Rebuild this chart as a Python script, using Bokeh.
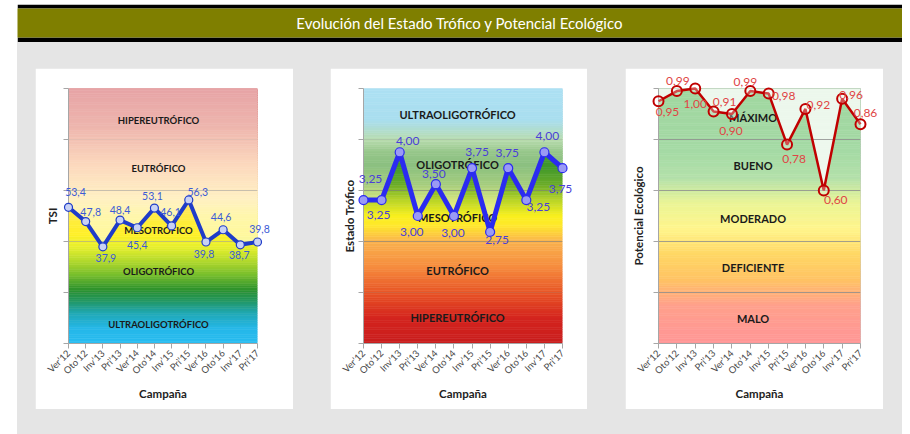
import numpy as np
from bokeh.plotting import figure
from bokeh.models import FixedTicker, Range1d
from bokeh.layouts import row, column
from bokeh.core.properties import value
from bokeh.embed import file_html
from bokeh.resources import INLINE

# ---------------- data ----------------
title_text = "Evolución del Estado Trófico y Potencial Ecológico"
campaigns = ["Ver’12", "Oto’12", "Inv’13", "Pri’13", "Ver’14", "Oto’14",
             "Inv’15", "Pri’15", "Ver’16", "Oto’16", "Inv’17", "Pri’17"]
tsi = [53.4, 47.8, 37.9, 48.4, 45.4, 53.1, 46.1, 56.3, 39.8, 44.6, 38.7, 39.8]
estado = [3.25, 3.25, 4.00, 3.00, 3.50, 3.00, 3.75, 2.75, 3.75, 3.25, 4.00, 3.75]
potencial = [0.95, 0.99, 1.00, 0.91, 0.90, 0.99, 0.98, 0.78, 0.92, 0.60, 0.96, 0.86]

tsi_bands = ["Hipereutrófico", "Eutrófico", "Mesotrófico", "Oligotrófico", "Ultraoligotrófico"]
estado_bands = ["Ultraoligotrófico", "Oligotrófico", "Mesotrófico", "Eutrófico", "Hipereutrófico"]
potencial_bands = ["Máximo", "Bueno", "Moderado", "Deficiente", "Malo"]

tsi_ticks = [0, 20, 40, 60, 80, 100]
estado_ticks = [1.0, 1.8, 2.6, 3.4, 4.2, 5.0]
potencial_ticks = [0.0, 0.2, 0.4, 0.6, 0.8, 1.0]

x_idx = list(range(len(campaigns)))

# ---------------- helpers ----------------
FONT = "Lato"


def hexcol(c):
    return "#%02x%02x%02x" % tuple(int(round(v)) for v in c)


def gradient(p, stops, lo, hi, n=110):
    edges = np.linspace(lo, hi, n + 1)
    sv = [s[0] for s in stops]
    cols = []
    for i in range(n):
        m = 0.5 * (edges[i] + edges[i + 1])
        c = [np.interp(m, sv, [s[1][k] for s in stops]) for k in range(3)]
        cols.append(hexcol(c))
    p.quad(left=0, right=len(campaigns) - 1, bottom=edges[:-1], top=edges[1:],
           fill_color=cols, line_color=cols, line_width=0.6)


def fmt(v, d):
    return f"{v:.{d}f}".replace(".", ",")


def make_panel(width, left, right, ylo, yhi, ticks, ylabel, std):
    p = figure(width=width, height=341, x_range=Range1d(0, len(campaigns) - 1),
               y_range=Range1d(ylo, yhi), toolbar_location=None, output_backend="svg",
               min_border_left=left, min_border_right=right, min_border_top=20,
               min_border_bottom=66)
    p.border_fill_color = "white"
    p.outline_line_color = None
    p.xgrid.visible = False
    p.ygrid.visible = False
    ax = p.xaxis[0]
    ax.ticker = FixedTicker(ticks=x_idx)
    ax.major_label_overrides = {i: c for i, c in enumerate(campaigns)}
    ax.major_label_orientation = np.pi / 4
    ax.major_label_text_font = FONT
    ax.major_label_text_font_size = "9.5px"
    ax.major_label_text_color = "#4a4a4a"
    ax.major_label_standoff = 3
    ax.axis_label = "Campaña"
    ax.axis_label_text_font = FONT
    ax.axis_label_text_font_style = "bold"
    ax.axis_label_text_font_size = "11.5px"
    ax.axis_label_text_color = "#222222"
    ax.axis_label_standoff = 4
    ay = p.yaxis[0]
    ay.ticker = FixedTicker(ticks=ticks)
    ay.major_label_overrides = {t: "" for t in ticks}
    ay.major_label_standoff = 0
    ay.axis_label = ylabel
    ay.axis_label_text_font = FONT
    ay.axis_label_text_font_style = "bold"
    ay.axis_label_text_font_size = "11.5px"
    ay.axis_label_text_color = "#222222"
    ay.axis_label_standoff = std
    for a in (ax, ay):
        a.axis_line_color = "#A6A6A6"
        a.major_tick_line_color = "#A6A6A6"
        a.major_tick_in = 0
        a.major_tick_out = 5
        a.minor_tick_line_color = None
    return p


def band_text(p, xc, ys, names, size):
    p.text(x=[xc] * len(ys), y=ys, text=[n.upper() for n in names],
           text_align="center", text_baseline="middle", text_color="#1a1a1a",
           text_font=value(FONT), text_font_style="bold", text_font_size=size)


def gridlines(p, ys, color, alpha):
    p.segment(x0=[0] * len(ys), x1=[len(campaigns) - 1] * len(ys), y0=ys, y1=ys,
              line_color=color, line_alpha=alpha, line_width=1)


# ---------------- header ----------------
h = figure(width=885, height=38, x_range=(0, 1), y_range=(0, 1), toolbar_location=None,
           output_backend="svg", x_axis_location=None, y_axis_location=None,
           min_border_top=4, min_border_bottom=5, min_border_left=0, min_border_right=0)
h.grid.visible = False
h.background_fill_color = "#7F7F00"
h.border_fill_color = "black"
h.outline_line_color = None
h.text(x=[0.5], y=[0.5], text=[title_text], text_align="center", text_baseline="middle",
       text_color="white", text_font=value(FONT), text_font_size="15px")

# ---------------- panel 1: TSI ----------------
p1 = make_panel(258, 33, 36, 0, 100, tsi_ticks, "TSI", 5)
p1.margin = (26, 0, 25, 18)
gradient(p1, [
    (0, (41, 189, 242)), (6, (38, 183, 232)), (12, (32, 168, 180)), (17, (35, 150, 95)),
    (21, (42, 145, 45)), (27, (120, 190, 45)), (33, (185, 220, 45)), (38, (232, 240, 45)),
    (43, (255, 240, 40)), (50, (255, 236, 70)), (57, (255, 222, 122)), (70, (249, 171, 111)),
    (85, (217, 93, 75)), (100, (202, 53, 57))], 0, 100)
p1.varea(x=x_idx, y1=tsi, y2=[100] * len(x_idx), fill_color="white", fill_alpha=0.55)
gridlines(p1, [40, 60], "#9A9A9A", 0.55)
gridlines(p1, [20, 80], "#9A9A9A", 0.15)
band_text(p1, 5.24, [87.5, 68.6, 44.3, 28.2, 7.5], tsi_bands, "9.5px")
p1.line(x_idx, tsi, line_color="#1F3CC8", line_width=4, level="overlay")
p1.scatter(x_idx, tsi, size=8, marker="circle", fill_color="#C9D2F4",
           line_color="#1F3CC8", line_width=1.2, level="overlay")
p1.text(x=x_idx, y=tsi, text=[fmt(v, 1) for v in tsi],
        x_offset=[7, 5, 3, 0, 0, -2, -1, 9, -2, -2, -1, 2],
        y_offset=[-15, -10, 11, -10, 17, -12, -14, -8, 12, -13, 10, -13],
        text_align="center", text_baseline="middle", text_color="#3C5BD6",
        text_font=value(FONT), text_font_size="10.5px", level="overlay")

# ---------------- panel 2: Estado Trófico ----------------
p2 = make_panel(257, 33, 25, 1, 5, estado_ticks, "Estado Trófico", 3)
p2.margin = (26, 0, 25, 37)
gradient(p2, [
    (1.0, (200, 30, 30)), (1.4, (212, 36, 30)), (1.8, (232, 85, 38)), (2.2, (246, 140, 62)),
    (2.6, (250, 178, 78)), (2.85, (255, 232, 45)), (3.0, (250, 240, 30)),
    (3.25, (185, 212, 40)), (3.5, (105, 172, 40)), (3.8, (62, 150, 45)), (4.0, (80, 160, 60)),
    (4.2, (138, 197, 122)), (4.5, (113, 200, 227)), (5.0, (118, 205, 237))], 1, 5)
p2.varea(x=x_idx, y1=estado, y2=[5] * len(x_idx), fill_color="white", fill_alpha=0.4)
gridlines(p2, [2.6, 3.4], "#7A7A7A", 0.6)
gridlines(p2, [1.8, 4.2], "#7A7A7A", 0.2)
band_text(p2, 5.2, [4.59, 3.81, 2.97, 2.14, 1.41], estado_bands, "11px")
p2.line(x_idx, estado, line_color="#2B2BF0", line_width=5, level="overlay")
p2.scatter(x_idx, estado, size=9, marker="circle", fill_color="#9A9AF5",
           line_color="#2B2BF0", line_width=1.2, level="overlay")
p2.text(x=x_idx, y=estado, text=[fmt(v, 2) for v in estado],
        x_offset=[7, -3, 8, -6, -2, -1, 5, 7, -1, 12, 3, -2],
        y_offset=[-21, 15, -11, 16, -10, 17, -16, 8, -15, 7, -16, 21],
        text_align="center", text_baseline="middle", text_color="#4A3FD8",
        text_font=value(FONT), text_font_size="12px", level="overlay")

# ---------------- panel 3: Potencial Ecológico ----------------
p3 = make_panel(258, 33, 23, 0, 1, potencial_ticks, "Potencial Ecológico", 9)
p3.margin = (26, 19, 25, 38)
p3.outline_line_color = "#C8C8C8"
gradient(p3, [
    (0.0, (255, 150, 150)), (0.15, (255, 160, 140)), (0.25, (255, 195, 100)),
    (0.35, (255, 215, 100)), (0.45, (255, 245, 140)), (0.55, (235, 245, 150)),
    (0.65, (180, 225, 170)), (0.75, (165, 218, 165)), (1.0, (160, 215, 160))], 0, 1)
p3.varea(x=x_idx, y1=potencial, y2=[1] * len(x_idx), fill_color="white", fill_alpha=0.8)
gridlines(p3, [0.2, 0.4, 0.6, 0.8], "#8C8C8C", 0.8)
band_text(p3, 5.15, [0.885, 0.70, 0.49, 0.30, 0.10], potencial_bands, "11px")
p3.line(x_idx, potencial, line_color="#C00000", line_width=2.5, level="overlay")
p3.scatter(x_idx, potencial, size=10, marker="circle", fill_color="white", fill_alpha=0.3,
           line_color="#C00000", line_width=2, level="overlay")
p3.text(x=x_idx, y=potencial, text=[fmt(v, 2) for v in potencial],
        x_offset=[9, 1, 0, 11, -1, -5, 15, 7, 13, 12, 9, 5],
        y_offset=[11, -10, 15, -9, 17, -9, 2, 14, -4, 9, -4, -11],
        text_align="center", text_baseline="middle", text_color="#E04545",
        text_font=value(FONT), text_font_size="12px", level="overlay")

body = row(p1, p2, p3, styles={"background-color": "#E5E5E5"})
root = column(h, body, margin=(4, 0, 0, 17))

open("out.html", "w").write(file_html(root, INLINE))
